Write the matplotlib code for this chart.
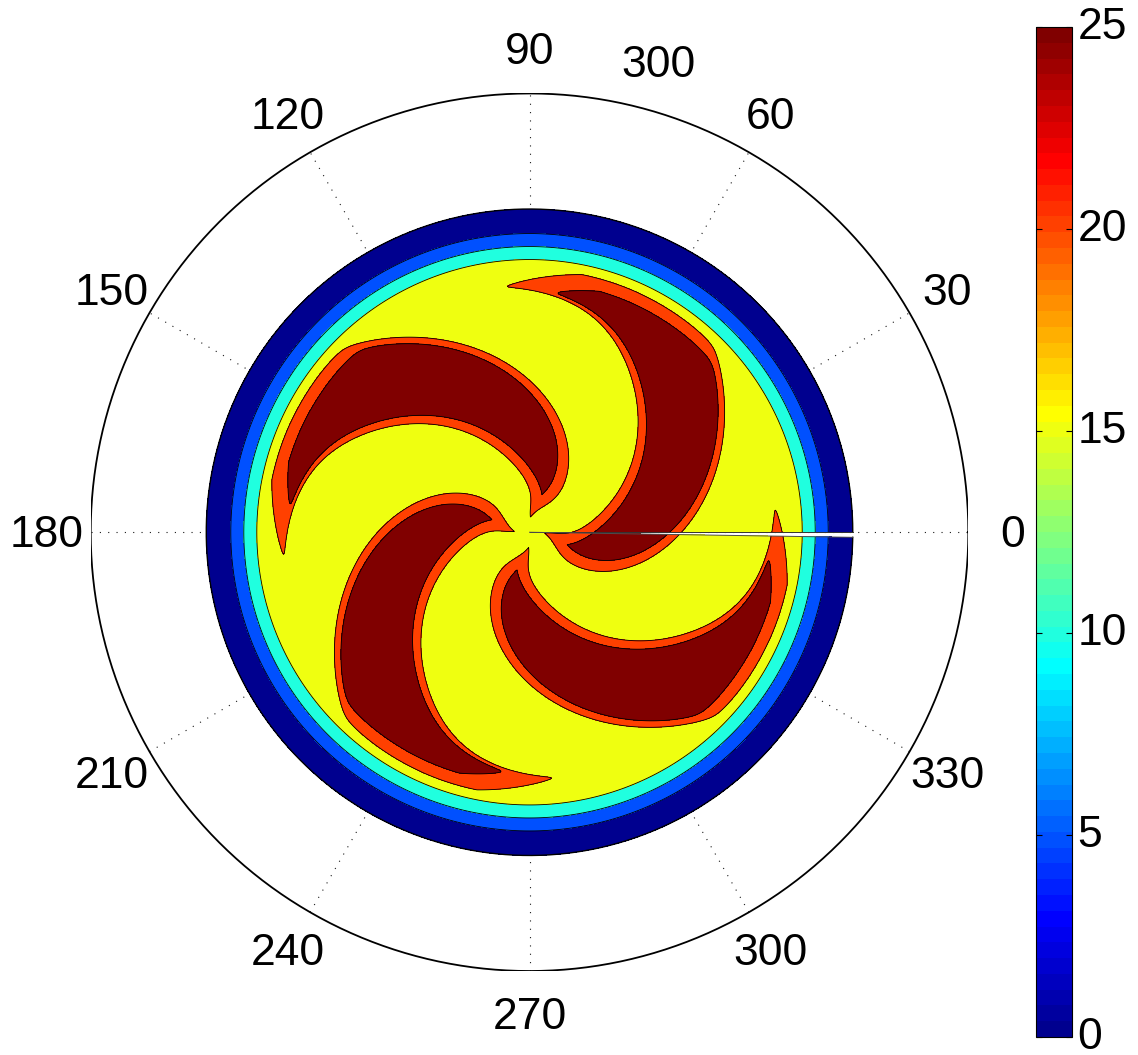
import numpy as np
import matplotlib
matplotlib.use("Agg")
import matplotlib.pyplot as plt
from matplotlib.colors import ListedColormap, Normalize
from matplotlib.cm import ScalarMappable


plt.rcParams['font.family'] = ['Liberation Sans', 'DejaVu Sans']


# Polar grid settings (outer circle is r = 300, data disk is smaller)
r_outer = 300
r_data = 221
gap_deg = 0.9            # the data does not wrap round at 0 deg
spoke_angles = [0, 30, 60, 90, 120, 150]
angle_ticks = [0, 30, 60, 90, 120, 150, 180, 210, 240, 270, 300, 330]
angle_labels = ["0", "30", "60", "90", "120", "150", "180", "210", "240", "270", "300", "330"]
r_label = "300"
r_label_pos = (74.6, 333)   # angle (deg), radius

# Contour levels and colorbar
levels = [5, 10, 15, 20, 25]
clim = (0, 25)
cbar_ticks = [0, 5, 10, 15, 20, 25]

# Radial profile of the background: flat plateau, then a drop to the rim
plateau_value = 17.5
plateau_edge = 182.0
rim_slope = 0.5625

# Four spiral arms (root angle in deg, twist in deg per radial unit)
arm_roots = [53, 143, 233, 323]
arm_twist = 0.57
arm_hook = [40, 17.1]           # extra turn near the centre: amplitude (deg), scale
arm_halfwidth = [0.31, 12, 45]  # slope, inner pinch, pinch scale
arm_lead_tip = [78, 22]         # leading-edge tip at the outer end: size, sharpness
arm_band = 8.2                  # width of the 20..25 band
arm_cut = [171.6, 13, 0.45]     # outer end: radius, angle where it starts to fall, fall per deg
arm_peak = 7.5


def matlab_jet(m=64):
    n = int(np.ceil(m / 4))
    u = np.r_[np.arange(1, n + 1) / n, np.ones(n - 1), np.arange(n, 0, -1) / n]
    g = int(np.ceil(n / 2)) - int(m % 4 == 1) + np.arange(1, len(u) + 1)
    r = g + n
    b = g - n
    out = np.zeros((m, 3))
    for ch, idx in enumerate((r, g, b)):
        ok = (idx >= 1) & (idx <= m)
        out[idx[ok] - 1, ch] = u[ok]
    return out


jet64 = matlab_jet(64)
# MATLAB contourf fills each band with the colour of its lower level
fill_levels = [-1000] + levels + [1000]
fill_colors = [jet64[min(63, int(np.fix((lv - clim[0]) / (clim[1] - clim[0]) * 64)))]
               for lv in [0] + levels]


# Build the field on a polar grid
r = np.linspace(0, r_data, 420)
th = np.deg2rad(np.linspace(0, 360 - gap_deg, 1600))
R, TH = np.meshgrid(r, th)

base = plateau_value - rim_slope * np.maximum(0, R - plateau_edge)
excess = np.zeros_like(R)
for root in arm_roots:
    thc = np.deg2rad(root + arm_twist * R + arm_hook[0] * np.exp(-(R / arm_hook[1]) ** 2))
    dth = np.angle(np.exp(1j * (TH - thc)))
    n_arc = R * np.abs(dth)
    W = arm_halfwidth[0] * R - arm_halfwidth[1] * np.exp(-(R / arm_halfwidth[2]) ** 2)
    # the leading side curls out into a tip near the outer end
    W = W + np.where(dth > 0, arm_lead_tip[0] * (R / arm_cut[0]) ** arm_lead_tip[1], 0)
    a = n_arc - W
    # outer end of the arm, lower on the leading side
    r_end = arm_cut[0] - arm_cut[2] * np.maximum(0, np.rad2deg(dth) - arm_cut[1])
    b = R - r_end
    d = 0.5 * (a + b + np.sqrt((a - b) ** 2 + 25))
    excess = np.maximum(excess, arm_peak - 5 * d / arm_band)
Z = base + np.clip(excess, 0, 12)

X = R * np.cos(TH)
Y = R * np.sin(TH)


fig = plt.figure(figsize=(11.38, 10.55), dpi=100)
ax = fig.add_axes([0.0797, 0.0796, 0.7712, 0.8318])
ax.set_xlim(-r_outer, r_outer)
ax.set_ylim(-r_outer, r_outer)
ax.axis('off')

# dotted spokes
for a in spoke_angles:
    c, s = np.cos(np.deg2rad(a)), np.sin(np.deg2rad(a))
    ax.plot([-r_outer * c, r_outer * c], [-r_outer * s, r_outer * s],
            color='0.1', lw=0.8, dashes=(1, 6.5), zorder=1)

# outer circle
t = np.linspace(0, 2 * np.pi, 721)
ax.plot(r_outer * np.cos(t), r_outer * np.sin(t), color='k', lw=1.3, zorder=1)

# filled contours + black contour lines
ax.contourf(X, Y, Z, levels=fill_levels, colors=fill_colors, zorder=2)
ax.contour(X, Y, Z, levels=levels, colors='k', linewidths=0.6, zorder=3)

# rim of the data and edges of the seam
ax.plot(r_data * np.cos(th), r_data * np.sin(th), color='k', lw=1.0, zorder=3)
ax.plot([0, r_data], [0, 0], color='0.2', lw=0.7, zorder=3)
ax.plot([0, r_data * np.cos(th[-1])], [0, r_data * np.sin(th[-1])], color='0.3', lw=0.7, zorder=3)

# angle labels
for ang, lab in zip(angle_ticks, angle_labels):
    ax.text(1.1 * r_outer * np.cos(np.deg2rad(ang)), 1.1 * r_outer * np.sin(np.deg2rad(ang)) - 2, lab,
            ha='center', va='center', fontsize=32, clip_on=False)
ax.text(r_label_pos[1] * np.cos(np.deg2rad(r_label_pos[0])),
        r_label_pos[1] * np.sin(np.deg2rad(r_label_pos[0])) - 2,
        r_label, ha='center', va='center', fontsize=32, clip_on=False)

# colorbar
cax = fig.add_axes([0.9104, 0.01706, 0.0316, 0.9573])
sm = ScalarMappable(norm=Normalize(*clim), cmap=ListedColormap(jet64))
cb = fig.colorbar(sm, cax=cax, ticks=cbar_ticks)
cax.tick_params(direction='in', length=4, width=0.8, labelsize=32, left=True, right=True, pad=4)
for lab in cax.get_yticklabels():
    lab.set_verticalalignment('center')
cb.outline.set_linewidth(0.8)

fig.savefig('out.png', dpi=100)
